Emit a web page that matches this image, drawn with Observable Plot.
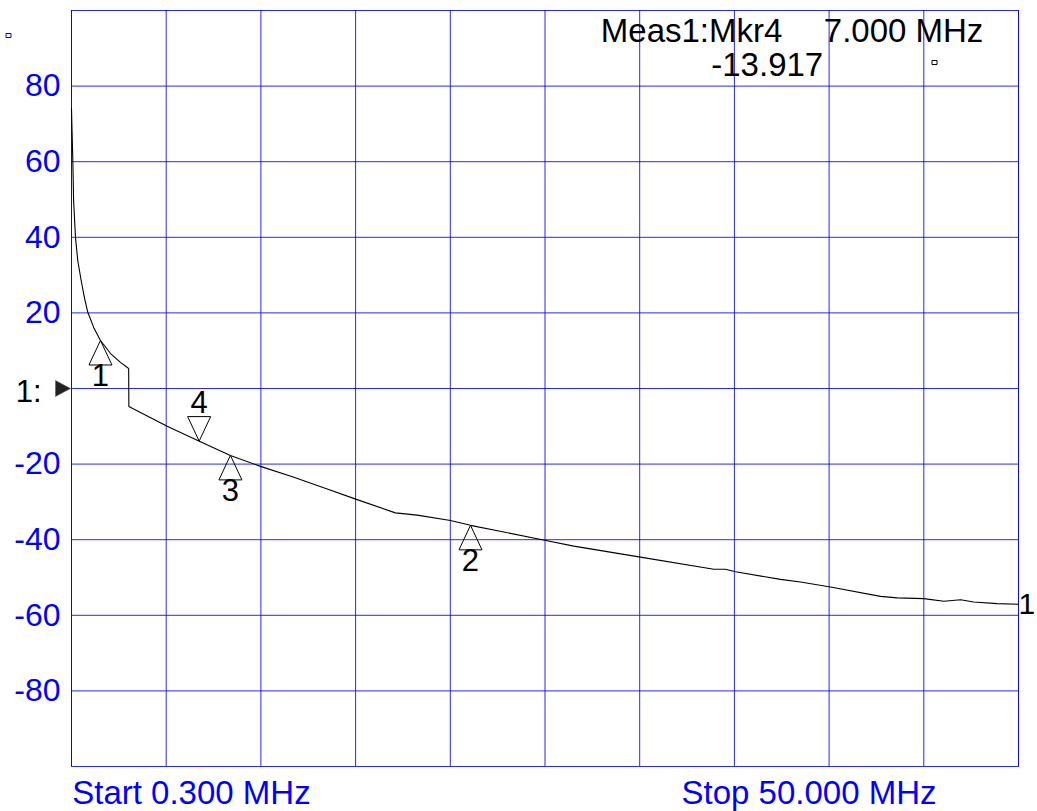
<!DOCTYPE html>
<html>
<head>
<meta charset="utf-8">
<script src="https://cdn.jsdelivr.net/npm/d3@7"></script>
<script src="https://cdn.jsdelivr.net/npm/@observablehq/plot@0.6"></script>
<style>
  html, body { margin: 0; padding: 0; background: #ffffff; }
  #chart svg { display: block; }
</style>
</head>
<body>
<div id="chart"></div>
<script>
// ---- Trace data (frequency in MHz, response in dB) ----
const freqMHz = [
  0.30, 0.33, 0.37, 0.39, 0.41, 0.51, 0.63, 0.81, 0.98, 1.16,
  1.47, 1.82, 2.35, 2.87, 3.30, 3.31, 5.32, 6.98, 8.64, 10.22,
  11.97, 13.72, 15.29, 17.30, 18.44, 20.19, 21.24, 25.00, 26.66, 30.16,
  34.01, 34.62, 35.15, 37.51, 38.56, 40.13, 42.76, 43.63, 45.03, 46.08,
  46.96, 47.65, 48.88, 50.00
];
const responseDb = [
  74.0, 68.0, 60.2, 55.0, 49.7, 39.9, 33.8, 28.5, 24.0, 20.1,
  16.1, 12.7, 9.25, 6.9, 5.3, -4.75, -10.0, -13.9, -17.7, -20.6,
  -23.5, -26.6, -29.4, -32.9, -33.5, -34.9, -36.2, -40.0, -41.7, -44.6,
  -47.8, -47.8, -48.5, -50.5, -51.2, -52.5, -55.0, -55.4, -55.6, -56.3,
  -55.9, -56.5, -56.9, -57.1
];

// ---- Markers ----
const markerIds   = ["1", "2", "3", "4"];
const markerFreq  = [1.82, 21.24, 8.64, 7.0];
const markerValue = [12.7, -36.2, -17.7, -13.917];
const markerDir   = ["up", "up", "up", "down"];

// ---- Axes / labels ----
const xDomain = [0.3, 50];
const yDomain = [-100, 100];
const yGridTicks = [-80, -60, -40, -20, 0, 20, 40, 60, 80];
const yLabelTicks = [-80, -60, -40, -20, 20, 40, 60, 80];
const xGridTicks = [0.3, 5.27, 10.24, 15.21, 20.18, 25.15, 30.12, 35.09, 40.06, 45.03, 50];
const refLevel = 0;
const refLabel = "1:";
const traceLabel = "1";
const startLabel = "Start 0.300 MHz";
const stopLabel = "Stop 50.000 MHz";
const readoutTitle = "Meas1:Mkr4";
const readoutFreq = "7.000 MHz";
const readoutValue = "-13.917";

const trace = freqMHz.map((f, i) => ({f, v: responseDb[i]}));
const markers = markerIds.map((id, i) => ({id, f: markerFreq[i], v: markerValue[i], dir: markerDir[i]}));

const BLUE = "#0000ff";
const FONT = "'Liberation Sans', Arial, Helvetica, sans-serif";

// custom symbols: apex at the data point
const upTri = {draw(ctx) { ctx.moveTo(0, 0); ctx.lineTo(11.5, 24.5); ctx.lineTo(-11.5, 24.5); ctx.closePath(); }};
const downTri = {draw(ctx) { ctx.moveTo(0, 0); ctx.lineTo(11.5, -24.5); ctx.lineTo(-11.5, -24.5); ctx.closePath(); }};
const refArrow = {draw(ctx) { ctx.moveTo(0, 0); ctx.lineTo(-15, -8); ctx.lineTo(-15, 8); ctx.closePath(); }};
const tinyBox = {draw(ctx) { ctx.moveTo(-2.5, -2); ctx.lineTo(2.5, -2); ctx.lineTo(2.5, 2); ctx.lineTo(-2.5, 2); ctx.closePath(); }};

const chart = Plot.plot({
  width: 1037,
  height: 811,
  marginLeft: 71,
  marginRight: 19,
  marginTop: 10,
  marginBottom: 45,
  style: {fontFamily: FONT, background: "#ffffff", overflow: "visible"},
  x: {domain: xDomain, axis: null},
  y: {domain: yDomain, axis: null},
  marks: [
    Plot.gridX(xGridTicks, {stroke: BLUE, strokeOpacity: 0.85, strokeWidth: 1}),
    Plot.gridY(yGridTicks, {stroke: BLUE, strokeOpacity: 0.85, strokeWidth: 1}),
    Plot.frame({stroke: BLUE, strokeOpacity: 0.85}),
    Plot.axisY(yLabelTicks, {
      label: null, tickSize: 0, tickPadding: 11, fontSize: 32, fill: BLUE,
      tickFormat: d => String(d)
    }),
    // reference level indicator
    Plot.dot([refLevel], {x: () => xDomain[0], y: d => d, symbol: refArrow, fill: "#222", stroke: "#555", strokeWidth: 0.5, dx: -1}),
    Plot.text([refLevel], {x: () => xDomain[0], y: d => d, text: () => refLabel, textAnchor: "end", lineAnchor: "bottom",
      dx: -30, dy: 13, fontSize: 31, fill: "#000"}),
    // markers
    Plot.dot(markers.filter(d => d.dir === "up"), {x: "f", y: "v", symbol: upTri, stroke: "#000", fill: "none", strokeWidth: 1}),
    Plot.dot(markers.filter(d => d.dir === "down"), {x: "f", y: "v", symbol: downTri, stroke: "#000", fill: "none", strokeWidth: 1}),
    Plot.text(markers.filter(d => d.dir === "up"), {x: "f", y: "v", text: "id", lineAnchor: "bottom", dy: 45.5, fontSize: 31, fill: "#000"}),
    Plot.text(markers.filter(d => d.dir === "down"), {x: "f", y: "v", text: "id", lineAnchor: "bottom", dy: -28, fontSize: 31, fill: "#000"}),
    // trace
    Plot.line(trace, {x: "f", y: "v", stroke: "#000", strokeWidth: 1.1}),
    Plot.text(trace.slice(-1), {x: "f", y: "v", text: () => traceLabel, textAnchor: "start", lineAnchor: "middle", dx: 0, fontSize: 30, fill: "#000"}),
    // readout
    Plot.text([readoutTitle], {frameAnchor: "top-left", text: d => d, textAnchor: "start", lineAnchor: "bottom", dx: 529.3, dy: 31.7, fontSize: 33, fill: "#000"}),
    Plot.text([readoutFreq], {frameAnchor: "top-left", text: d => d, textAnchor: "start", lineAnchor: "bottom", dx: 752.3, dy: 31.7, fontSize: 33, fill: "#000"}),
    Plot.text([readoutValue], {frameAnchor: "top-left", text: d => d, textAnchor: "end", lineAnchor: "bottom", dx: 751.7, dy: 65, fontSize: 33, fill: "#000"}),
    Plot.dot([0], {frameAnchor: "top-left", symbol: tinyBox, stroke: "#000", fill: "none", strokeWidth: 1, dx: 863, dy: 52}),
    Plot.dot([0], {frameAnchor: "top-left", symbol: tinyBox, stroke: BLUE, fill: "none", strokeWidth: 1, dx: -63, dy: 25}),
    // start / stop
    Plot.text([startLabel], {frameAnchor: "bottom-left", text: d => d, textAnchor: "start", lineAnchor: "bottom", dx: 0.7, dy: 37, fontSize: 33, fill: BLUE}),
    Plot.text([stopLabel], {frameAnchor: "bottom-left", text: d => d, textAnchor: "start", lineAnchor: "bottom", dx: 610, dy: 37, fontSize: 33, fill: BLUE})
  ]
});
document.getElementById("chart").appendChild(chart);
</script>
</body>
</html>
